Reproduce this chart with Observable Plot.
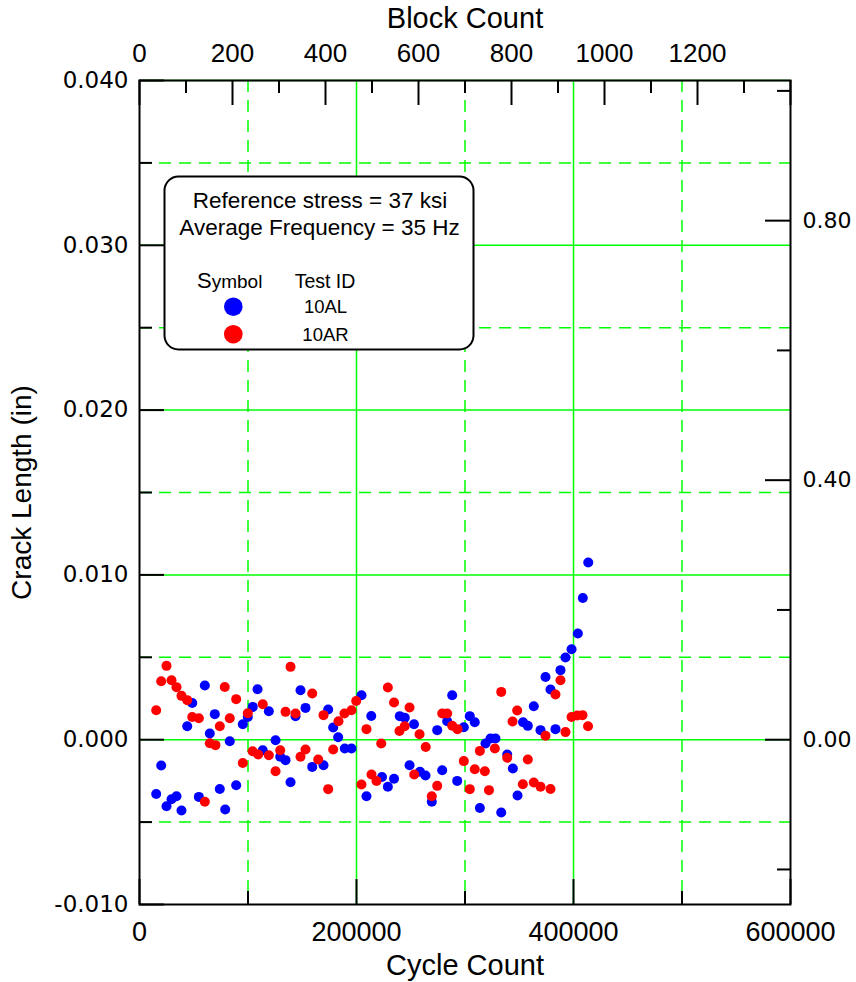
<!DOCTYPE html>
<html>
<head>
<meta charset="utf-8">
<script src="https://cdn.jsdelivr.net/npm/d3@7"></script>
<script src="https://cdn.jsdelivr.net/npm/@observablehq/plot@0.6"></script>
<style>
  html, body { margin: 0; padding: 0; background: #fff; overflow: hidden; }
</style>
</head>
<body>
<div id="chart"></div>
<script>
// ---------------- data ----------------
const seriesNames = ["10AL", "10AR"];
const seriesColors = ["#0000ff", "#ff0000"];

// Test 10AL (blue)
const blueCycles = [15400,20000,24900,29500,34100,38700,44000,48600,54700,60200,
  64800,69400,74000,79000,83200,89100,95200,99800,104400,108800,
  113600,119200,125400,129700,134600,139200,143800,148400,153000,159200,
  169600,173900,178500,183100,189200,195400,204600,209200,213600,223500,
  228900,234600,239900,244500,248900,253000,258500,263600,269400,274400,
  279000,283600,288200,292800,298900,304400,309000,313700,318900,323500,
  328100,333400,338900,344100,348400,353500,357900,363400,369600,374200,
  378800,383400,388000,392600,398200,404000,408600,413600];
const blueCrack = [-0.00329,-0.00157,-0.00404,-0.00361,-0.00343,-0.00430,0.00082,0.00223,-0.00347,0.00329,
  0.00038,0.00155,-0.00299,-0.00424,-0.00009,-0.00276,0.00094,0.00138,0.00199,0.00306,
  -0.00064,0.00173,-0.00003,-0.00104,-0.00124,-0.00258,0.00143,0.00300,0.00193,-0.00165,
  -0.00155,0.00183,0.00074,0.00015,-0.00053,-0.00053,0.00270,-0.00343,0.00144,-0.00226,
  -0.00286,-0.00237,0.00143,0.00133,-0.00155,0.00094,-0.00195,-0.00217,-0.00377,0.00058,
  -0.00185,0.00112,0.00270,-0.00250,0.00076,0.00143,0.00106,-0.00414,-0.00023,0.00007,
  0.00007,-0.00442,-0.00090,-0.00175,-0.00339,0.00106,0.00084,0.00203,0.00058,0.00381,
  0.00305,0.00064,0.00422,0.00499,0.00549,0.00644,0.00860,0.01075];

// Test 10AR (red)
const redCycles = [15400,20000,24900,29500,34100,38700,44000,48600,54700,60200,
  64800,70000,74000,78600,83200,89100,95200,99800,104200,109400,
  113600,119200,125400,129700,134600,139200,143800,148400,153000,159200,
  164700,169600,173900,178500,183400,188900,195400,199700,204600,209200,
  213800,218400,222800,228900,234600,239600,244400,248900,253200,258100,
  263800,269400,274400,279000,283600,288200,293100,298900,304400,309000,
  313700,318300,322100,327500,333400,338900,343800,348100,353300,357900,
  363400,369600,374200,378800,383400,388000,392600,398200,403400,408300,413400];
const redCrack = [0.00179,0.00355,0.00448,0.00361,0.00319,0.00266,0.00240,0.00138,0.00130,-0.00377,
  -0.00021,-0.00033,0.00082,0.00320,0.00130,0.00246,-0.00141,0.00161,-0.00070,-0.00090,
  0.00215,-0.00094,-0.00191,-0.00064,0.00169,0.00442,0.00159,-0.00104,-0.00059,0.00280,
  -0.00120,0.00149,-0.00300,-0.00059,0.00112,0.00159,0.00179,0.00235,-0.00272,0.00064,
  -0.00211,-0.00250,-0.00023,0.00317,0.00226,0.00053,0.00082,0.00195,-0.00211,0.00033,
  -0.00044,-0.00343,-0.00280,0.00159,0.00159,0.00085,0.00064,-0.00130,-0.00300,-0.00179,
  -0.00068,-0.00191,-0.00306,-0.00053,0.00290,-0.00110,0.00110,0.00177,-0.00270,-0.00120,
  -0.00260,-0.00286,0.00024,-0.00299,0.00274,0.00361,0.00046,0.00138,0.00147,0.00149,0.00082];

// axes / ticks
const cycleDomain = [0, 600000];
const crackDomain = [-0.010, 0.040];
const cycleLabels = [0, 200000, 400000, 600000];
const cycleMinor = [100000, 300000, 500000];
const crackLabels = [-0.010, 0.000, 0.010, 0.020, 0.030, 0.040];
const crackMinor = [-0.005, 0.005, 0.015, 0.025, 0.035];
const blocksMax = 1400;
const blockLabels = [0, 200, 400, 600, 800, 1000, 1200];
const blockMajor = [0, 200, 400, 600, 800, 1000, 1200, 1400];
const blockMinor = [100, 300, 500, 700, 900, 1100, 1300];
const mmLabels = [0.00, 0.40, 0.80];
const mmMinor = [-0.20, 0.20, 0.60, 1.00];
const gridXSolid = [200000, 400000];
const gridXDashed = [100000, 300000, 500000];
const gridYSolid = [0.000, 0.010, 0.020, 0.030, 0.040];
const gridYDashed = [-0.005, 0.005, 0.015, 0.025, 0.035];

const legendLines = ["Reference stress = 37 ksi", "Average Frequency = 35 Hz"];

// ---------------- layout ----------------
const W = 856, H = 982;
const mL = 139, mR = 66, mT = 80, mB = 78;
const fw = W - mL - mR, fh = H - mT - mB;
const CPB = cycleDomain[1] / blocksMax;   // cycles per block
const IN_PER_MM = 1 / 25.4;
const GREEN = "#00ff00";
const MAJ = 25, MIN = 13;

const blueData = blueCycles.map((c, i) => ({cycle: c, crack: blueCrack[i], id: seriesNames[0]}));
const redData = redCycles.map((c, i) => ({cycle: c, crack: redCrack[i], id: seriesNames[1]}));

function legendMark() {
  const g = d3.create("svg:g")
    .attr("font-family", "Liberation Sans, Arial, sans-serif")
    .attr("fill", "black")
    .attr("text-anchor", "start");
  g.append("rect")
    .attr("x", 164.5).attr("y", 176.5).attr("width", 309).attr("height", 173)
    .attr("rx", 14).attr("ry", 14)
    .attr("fill", "white").attr("stroke", "black").attr("stroke-width", 2);
  g.append("text").attr("x", 320).attr("y", 208).attr("text-anchor", "middle")
    .attr("font-size", 22.5).text(legendLines[0]);
  g.append("text").attr("x", 319.5).attr("y", 235).attr("text-anchor", "middle")
    .attr("font-size", 22.5).text(legendLines[1]);
  const sym = g.append("text").attr("x", 197).attr("y", 288).attr("text-anchor", "start");
  sym.append("tspan").attr("font-size", 22).text("S");
  sym.append("tspan").attr("font-size", 19).text("ymbol");
  g.append("text").attr("x", 325).attr("y", 288).attr("text-anchor", "middle")
    .attr("font-size", 19.5).text("Test ID");
  seriesNames.forEach((name, i) => {
    const cy = 306.7 + i * 27.5;
    g.append("circle").attr("cx", 233.3).attr("cy", cy).attr("r", 9.3).attr("fill", seriesColors[i]);
    g.append("text").attr("x", 325.5).attr("y", cy + 6.6).attr("text-anchor", "middle")
      .attr("font-size", 18.5).text(name);
  });
  return g.node();
}

const fmtIn = v => v.toFixed(3);
const fmtMm = v => (v / IN_PER_MM).toFixed(2);
const GW = 1.5;

const chart = Plot.plot({
  width: W, height: H,
  marginLeft: mL, marginRight: mR, marginTop: mT, marginBottom: mB,
  style: {fontFamily: "Liberation Sans, Arial, sans-serif", background: "white", overflow: "visible"},
  x: {domain: cycleDomain},
  y: {domain: crackDomain},
  marks: [
    // grid
    Plot.ruleX(gridXSolid, {x: d => d, stroke: GREEN, strokeWidth: GW}),
    Plot.ruleX(gridXDashed, {x: d => d, stroke: GREEN, strokeWidth: GW, strokeDasharray: "12,8"}),
    Plot.ruleY(gridYSolid, {y: d => d, stroke: GREEN, strokeWidth: GW}),
    Plot.ruleY(gridYDashed, {y: d => d, stroke: GREEN, strokeWidth: GW, strokeDasharray: "12,8"}),
    // inward ticks
    Plot.tickX(cycleLabels, {x: d => d, stroke: "black", strokeWidth: 2, insetTop: fh - MAJ}),
    Plot.tickX(cycleMinor, {x: d => d, stroke: "black", strokeWidth: 2, insetTop: fh - MIN}),
    Plot.tickX(blockMajor, {x: b => b * CPB, stroke: "black", strokeWidth: 2, insetBottom: fh - MAJ}),
    Plot.tickX(blockMinor, {x: b => b * CPB, stroke: "black", strokeWidth: 2, insetBottom: fh - MIN}),
    Plot.tickY(crackLabels, {y: d => d, stroke: "black", strokeWidth: 2, insetRight: fw - MAJ}),
    Plot.tickY(crackMinor, {y: d => d, stroke: "black", strokeWidth: 2, insetRight: fw - MIN}),
    Plot.tickY(mmLabels, {y: m => m * IN_PER_MM, stroke: "black", strokeWidth: 2, insetLeft: fw - MAJ}),
    Plot.tickY(mmMinor, {y: m => m * IN_PER_MM, stroke: "black", strokeWidth: 2, insetLeft: fw - MIN}),
    Plot.frame({stroke: "black", strokeWidth: 2}),
    // axes labels
    Plot.axisX({anchor: "bottom", ticks: cycleLabels, tickFormat: d => d.toFixed(0), tickSize: 0, tickPadding: 17,
      fontSize: 27, label: null}),
    Plot.axisX({anchor: "top", ticks: blockLabels.map(b => b * CPB), tickFormat: v => String(Math.round(v / CPB)),
      tickSize: 0, tickPadding: 19, fontSize: 26, label: null}),
    Plot.axisY({anchor: "left", ticks: crackLabels, tickFormat: fmtIn, tickSize: 0, tickPadding: 11,
      fontSize: 23, fontFamily: "DejaVu Sans", label: null}),
    Plot.axisY({anchor: "right", ticks: mmLabels.map(m => m * IN_PER_MM), tickFormat: fmtMm, tickSize: 0, tickPadding: 12,
      fontSize: 22, fontFamily: "DejaVu Sans", label: null}),
    // titles
    Plot.text(["Block Count"], {text: d => d, frameAnchor: "top", lineAnchor: "middle", textAnchor: "middle",
      dy: -62, fontSize: 29, fill: "black"}),
    Plot.text(["Cycle Count"], {text: d => d, frameAnchor: "bottom", lineAnchor: "middle", textAnchor: "middle",
      dy: 61, fontSize: 29, fill: "black"}),
    Plot.text(["Crack Length (in)"], {text: d => d, frameAnchor: "left", lineAnchor: "middle", textAnchor: "middle",
      dx: -117, rotate: -90, fontSize: 28, fill: "black"}),
    // data
    Plot.dot(blueData, {x: "cycle", y: "crack", r: 5, fill: seriesColors[0], stroke: "none"}),
    Plot.dot(redData, {x: "cycle", y: "crack", r: 5, fill: seriesColors[1], stroke: "none"}),
    // legend
    legendMark
  ]
});
document.getElementById("chart").append(chart);
</script>
</body>
</html>
